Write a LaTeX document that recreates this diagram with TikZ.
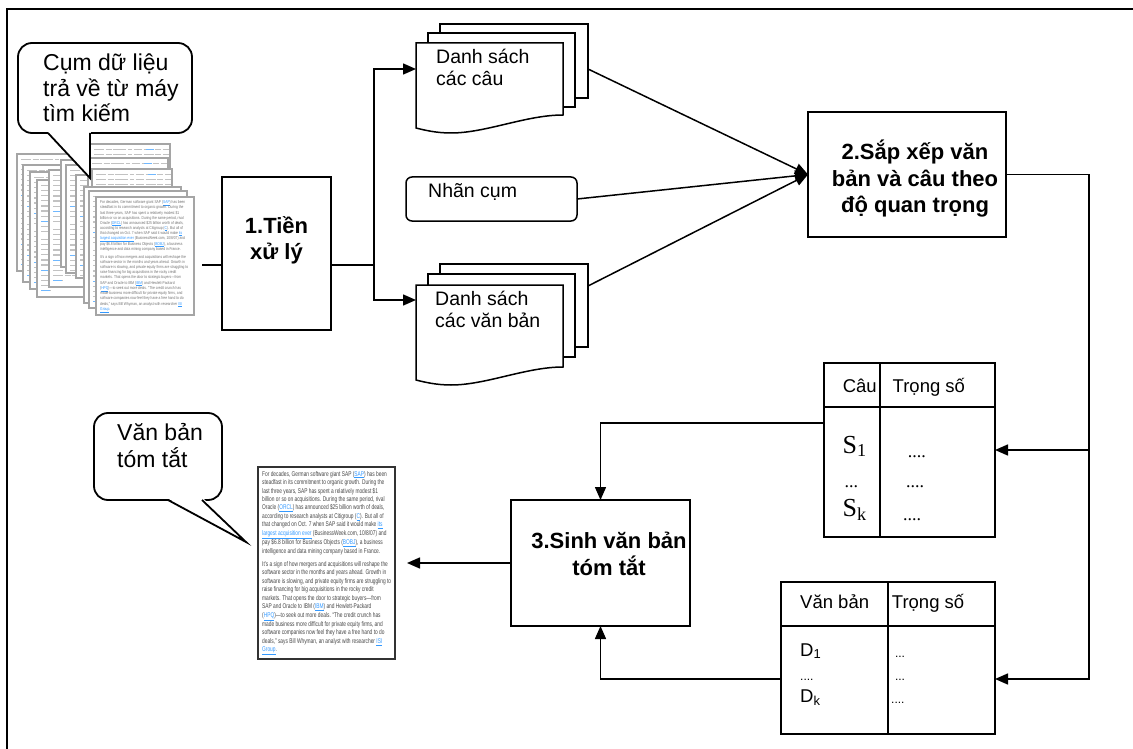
\documentclass[tikz,border=0pt]{standalone}
\usepackage{fontspec}
\setmainfont{Liberation Sans}
\newfontfamily\timesfont{Liberation Serif}
\usepackage{graphicx}
\usetikzlibrary{arrows.meta}

\definecolor{linkblue}{RGB}{51,153,255}
\definecolor{sheetgray}{RGB}{165,165,165}

% blue underlined hyperlink look inside the article text
\newcommand\lnk[1]{\textcolor{linkblue}{\underline{#1}}}
% the news article printed on the page icons
\newcommand\articlebody{%
  \begin{tabular}{@{}l@{}}
  For decades, German software giant SAP (\lnk{SAP}) has been\\
  steadfast in its commitment to organic growth. During the\\
  last three years, SAP has spent a relatively modest \$1\\
  billion or so on acquisitions. During the same period, rival\\
  Oracle (\lnk{ORCL}) has announced \$25 billion worth of deals,\\
  according to research analysts at Citigroup (\lnk{C}). But all of\\
  that changed on Oct. 7 when SAP said it would make \lnk{its}\\
  \lnk{largest acquisition ever} (BusinessWeek.com, 10/8/07) and\\
  pay \$6.8 billion for Business Objects (\lnk{BOBJ}), a business\\
  intelligence and data mining company based in France.\\[5pt]
  It’s a sign of how mergers and acquisitions will reshape the\\
  software sector in the months and years ahead. Growth in\\
  software is slowing, and private equity firms are struggling to\\
  raise financing for big acquisitions in the rocky credit\\
  markets. That opens the door to strategic buyers—from\\
  SAP and Oracle to IBM (\lnk{IBM}) and Hewlett-Packard\\
  (\lnk{HPQ})—to seek out more deals. “The credit crunch has\\
  made business more difficult for private equity firms, and\\
  software companies now feel they have a free hand to do\\
  deals,” says Bill Whyman, an analyst with researcher \lnk{ISI}\\
  \lnk{Group}.
  \end{tabular}}
\newcommand\linesl[1]{\begin{tabular}[t]{@{}l@{}}#1\end{tabular}}
\newcommand\linesc[1]{\begin{tabular}[t]{@{}c@{}}#1\end{tabular}}
\newsavebox\sheettext
\newsavebox\summarytext
\AtBeginDocument{%
  \sbox\sheettext{\color{black!55}\resizebox*{88pt}{112pt}{\fontsize{7}{8.67}\selectfont\articlebody}}%
  \sbox\summarytext{\color{black!72}\resizebox*{129pt}{185pt}{\fontsize{7}{8.67}\selectfont\articlebody}}%
}

\newcommand\bubblefont{\fontsize{23}{25.7}\selectfont}
\newcommand\procfont{\fontsize{22}{26.3}\selectfont\bfseries}
\newcommand\listfont{\fontsize{19.5}{22.5}\selectfont}
\newcommand\headfont{\fontsize{18.5}{22}\selectfont}

% a page of the result stack that lies behind others: its print is only a texture
% name, left, top, width, height
\newcommand\backsheet[5]{%
  \node[docsheet, minimum width=#4pt, minimum height=#5pt] (#1) at (#2,#3) {};
  \begin{scope}
    \clip (#1.south west) rectangle (#1.north east);
    \foreach \k/\len in {0/84,1/84,2/76,3/84,4/84,5/84,6/82,7/84,8/84,9/80,
                         10/84,11/80,12/86,13/74,14/78,15/74,16/78,17/82,18/84,19/84,20/10} {
      \pgfmathsetmacro\dy{5.5+5.1*\k+(\k>9)*3}
      \draw[printline] ([xshift=4pt,yshift=-\dy pt]#1.north west) -- ++(\len,0);
    }
    \foreach \k/\from/\len in {0/52/8,4/12/8,5/78/4,6/82/4,7/0/34,8/58/8,15/50/6,16/0/8,19/82/5,20/0/9} {
      \pgfmathsetmacro\dy{5.5+5.1*\k+(\k>9)*3}
      \draw[linkline] ([xshift={(4+\from)*1pt},yshift=-\dy pt]#1.north west) -- ++(\len,0);
    }
  \end{scope}
  \draw[sheetedge] (#1.south west) rectangle (#1.north east);
}
% the foremost page of the stack, with its article readable
\newcommand\frontsheet[5]{%
  \node[docsheet, minimum width=#4pt, minimum height=#5pt] (#1) at (#2,#3) {};
  \node[anchor=north west, inner sep=0pt] (#1-text) at ([xshift=4pt,yshift=-3pt]#1.north west) {\usebox\sheettext};
  \draw[sheetedge] (#1.south west) rectangle (#1.north east);
}

\tikzset{
  outerframe/.style={line width=1.8pt},
  procbox/.style={draw, line width=1.8pt, fill=white, inner sep=0pt, outer sep=0pt, anchor=north west},
  sheet/.style={draw, line width=1.5pt, fill=white, inner sep=0pt, outer sep=0pt, anchor=north west},
  ghost/.style={inner sep=0pt, outer sep=0pt, anchor=north west},
  docsheet/.style={fill=white, inner sep=0pt, outer sep=0pt, anchor=north west},
  sheetedge/.style={draw=sheetgray, line width=1.4pt},
  printline/.style={draw=black!24, line width=1.2pt,
    dash pattern=on 10pt off 1.7pt on 6pt off 1.7pt on 13pt off 1.7pt on 4pt off 1.7pt on 8pt off 1.7pt},
  linkline/.style={draw=linkblue!70, line width=1.2pt},
  docline/.style={line width=1.5pt, fill=white},
  conn/.style={line width=1.5pt},
  arrowconn/.style={conn, -{Triangle[length=13pt,width=11pt]}},
  lbl/.style={inner sep=0pt, anchor=base west},
  clbl/.style={inner sep=0pt, anchor=base},
  bubble/.style={draw, line width=1.8pt, fill=white, rounded corners=14pt, inner sep=0pt, outer sep=0pt, anchor=north west},
  bubbletail/.style={line width=1.8pt},
  tableline/.style={line width=1.5pt},
}

\begin{document}
\begin{tikzpicture}[x=1pt,y=-1pt]
\useasboundingbox (0,0) rectangle (1133,749);
\clip (0,0) rectangle (1133,749);
\fill[white] (0,0) rectangle (1133,749);

% outer frame
\draw[outerframe] (7,770) -- (7,9) -- (1150,9);

% ---- stack of retrieved pages ----
\backsheet{pA1}{17}{154}{98}{117}
\backsheet{pA2}{23}{165}{98}{117}
\backsheet{pA3}{30}{172}{98}{117}
\backsheet{pA4}{37}{180}{98}{117}
\backsheet{pB3}{49}{170}{98}{117}
\backsheet{pB1}{61}{160}{98}{107}
\backsheet{pB2}{66}{165}{98}{108}
\backsheet{pB4}{76}{175}{94}{103}
\backsheet{pC1}{90}{144}{80}{118}
\backsheet{pC2}{88}{158}{80}{118}
\backsheet{pC3}{92}{169}{80}{118}
\backsheet{pC4}{84}{187}{97}{116}
\backsheet{pC5}{89}{191}{98}{117}
\frontsheet{pC6}{96}{197}{98}{118}

% ---- speech bubble over the stack ----
\node[bubble, minimum width=174pt, minimum height=90pt] (bq) at (18,43) {};
\fill[white] (47,131) -- (91,131) -- (90,178) -- cycle;
\draw[bubbletail] (48,133) -- (90,178) -- (90,133);
\node[lbl, font=\bubblefont] (bqt) at (43,70.5) {\linesl{Cụm dữ liệu\\trả về từ máy\\tìm kiếm}};

% ---- step 1 ----
\node[procbox, minimum width=109pt, minimum height=153pt] (b1) at (222,177) {};
\node[clbl, font=\procfont] (b1t) at (276.5,233.3) {\linesc{1.Tiền\\xử lý}};

% ---- sentence list (multi-document) ----
\node[sheet, minimum width=148pt, minimum height=74pt] (dcb) at (440,24) {};
\node[sheet, minimum width=147pt, minimum height=74pt] (dcm) at (428,33) {};
\node[ghost, minimum width=147pt, minimum height=72pt] (dcf) at (416,43) {};
\draw[docline] (dcf.north west) -- (dcf.north east) -- (dcf.south east)
  .. controls +(-37,0) and +(35,0) .. ([xshift=35pt,yshift=-18pt]dcf.south west)
  .. controls +(-15,0) and +(8,2) .. ([yshift=-13pt]dcf.south west) -- cycle;
\node[lbl, font=\listfont] (dct) at (436,63.3) {\linesl{Danh sách\\các câu}};

% ---- cluster label ----
\node[procbox, line width=1.5pt, rounded corners=6pt, minimum width=171pt, minimum height=44pt] (nl) at (406,177) {};
\node[lbl, font=\listfont] (nlt) at (428,197.3) {Nhãn cụm};

% ---- document list (multi-document) ----
\node[sheet, minimum width=148pt, minimum height=83pt] (dtb) at (440,264) {};
\node[sheet, minimum width=147pt, minimum height=83pt] (dtm) at (428,274) {};
\node[ghost, minimum width=147pt, minimum height=82pt] (dtf) at (416,285) {};
\draw[docline] (dtf.north west) -- (dtf.north east) -- (dtf.south east)
  .. controls +(-37,0) and +(35,0) .. ([xshift=35pt,yshift=-18pt]dtf.south west)
  .. controls +(-15,0) and +(8,2) .. ([yshift=-13pt]dtf.south west) -- cycle;
\node[lbl, font=\listfont] (dtt) at (435,305) {\linesl{Danh sách\\các văn bản}};

% ---- step 2 ----
\node[procbox, minimum width=198pt, minimum height=125pt] (b2) at (808,112) {};
\node[clbl, font=\procfont] (b2t) at (915,160) {\linesc{2.Sắp xếp văn\\bản và câu theo\\độ quan trọng}};

% ---- sentence weight table ----
\node[procbox, line width=1.5pt, minimum width=171pt, minimum height=174pt] (ct) at (824,363) {};
\draw[tableline] ([yshift=-44pt]ct.north west) -- ([yshift=-44pt]ct.north east);
\draw[tableline] ([xshift=56pt]ct.north west) -- ([xshift=56pt]ct.south west);
\node[lbl, font=\headfont] (cth1) at (842.6,392) {Câu};
\node[lbl, font=\headfont] (cth2) at (892.5,392) {Trọng số};
\node[lbl, font=\timesfont\fontsize{26}{28}\selectfont] (cs1) at (842.5,453) {S\textsubscript{1}};
\node[lbl, font=\timesfont\fontsize{18}{20}\selectfont] (csd) at (844.5,487) {...};
\node[lbl, font=\timesfont\fontsize{26}{28}\selectfont] (csk) at (842.5,516) {S\textsubscript{k}};
\node[lbl, font=\timesfont\fontsize{18}{20}\selectfont] (cw1) at (907.6,457) {....};
\node[lbl, font=\timesfont\fontsize{18}{20}\selectfont] (cw2) at (906,487) {....};
\node[lbl, font=\timesfont\fontsize{18}{20}\selectfont] (cw3) at (903,520) {....};

% ---- document weight table ----
\node[procbox, line width=1.5pt, minimum width=214pt, minimum height=152pt] (dt) at (781,582) {};
\draw[tableline] ([yshift=-44pt]dt.north west) -- ([yshift=-44pt]dt.north east);
\draw[tableline] ([xshift=107pt]dt.north west) -- ([xshift=107pt]dt.south west);
\node[lbl, font=\headfont] (dth1) at (800,608.3) {Văn bản};
\node[lbl, font=\headfont] (dth2) at (891.7,608.3) {Trọng số};
\node[lbl, font=\headfont] (dd1) at (800,656) {D\textsubscript{1}};
\node[lbl, font=\fontsize{12}{14}\selectfont] (ddd) at (800,680) {....};
\node[lbl, font=\headfont] (ddk) at (800,702) {D\textsubscript{k}};
\node[lbl, font=\fontsize{12}{14}\selectfont] (dw1) at (894.8,657) {...};
\node[lbl, font=\fontsize{12}{14}\selectfont] (dw2) at (894.8,680) {...};
\node[lbl, font=\fontsize{12}{14}\selectfont] (dw3) at (891,703) {....};

% ---- step 3 ----
\node[procbox, minimum width=179pt, minimum height=126pt] (b3) at (511,500) {};
\node[clbl, font=\procfont] (b3t) at (609,548) {\linesc{3.Sinh văn bản\\tóm tắt}};

% ---- produced summary ----
\node[procbox, draw=black!80, line width=1.2pt, minimum width=137pt, minimum height=192pt] (sd) at (258,467) {};
\node[anchor=north west, inner sep=0pt] (sdt) at ([xshift=4pt,yshift=-3pt]sd.north west) {\usebox\summarytext};

\node[bubble, minimum width=128pt, minimum height=87pt] (bs) at (94,413) {};
\fill[white] (167,498) -- (203,498) -- (246,542) -- cycle;
\draw[bubbletail] (168,500) -- (246,542) -- (202,500);
\node[lbl, font=\bubblefont] (bst) at (117,440) {\linesl{Văn bản\\tóm tắt}};

% ---- connectors ----
\coordinate (stack-out) at (202,265);
\coordinate (split) at (374,265);
\coordinate (rail) at (1089,679);
\draw[conn] (stack-out) -- (stack-out -| b1.west);
\draw[conn] (split -| b1.east) -- (split);
\draw[arrowconn] (split) |- ([yshift=-26pt]dcf.north west);
\draw[arrowconn] (split) |- ([yshift=-15pt]dtf.north west);
\draw[arrowconn] ([yshift=-8pt]dcb.east) -- (b2.west);
\draw[arrowconn] (nl.east) -- (b2.west);
\draw[arrowconn] ([yshift=19.5pt]dtb.east) -- (b2.west);
\draw[arrowconn] (b2.east) -| (rail) -- (rail -| dt.east);
\draw[arrowconn] (ct.east -| rail) -- (ct.east);
\draw[arrowconn] ([yshift=27pt]ct.west) -| (b3.north);
\draw[arrowconn] ([yshift=-21pt]dt.west) -| (b3.south);
\draw[arrowconn] (b3.west) -- ([xshift=12pt]sd.east);
\end{tikzpicture}
\end{document}
